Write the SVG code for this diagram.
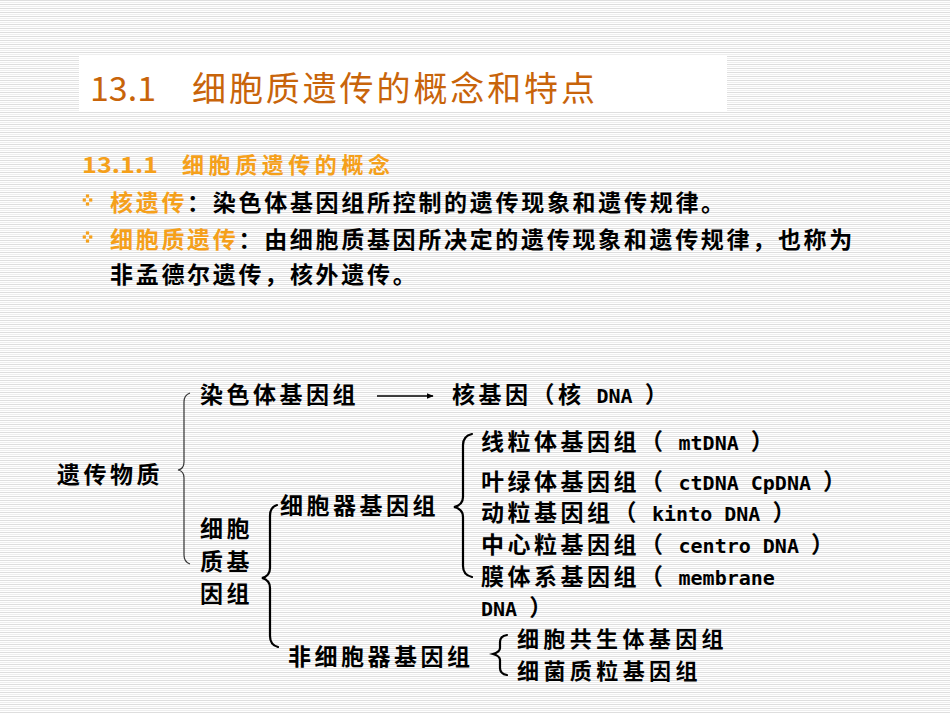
<svg xmlns="http://www.w3.org/2000/svg" width="950" height="713" viewBox="0 0 950 713">
<defs>
<pattern id="stripes" x="0" y="0" width="8" height="4" patternUnits="userSpaceOnUse">
<rect width="8" height="4" fill="#ffffff"/>
<rect y="0" width="8" height="1" fill="#dedede"/>
<rect y="2" width="8" height="1" fill="#eeeeee"/>
</pattern>
<g id="bullet">
<rect x="-1.6" y="-5.6" width="3.2" height="3.2" fill="#f5a01a"/>
<rect x="-4.8" y="-1.6" width="3.2" height="3.2" fill="#f5a01a"/>
<rect x="1.6" y="-1.6" width="3.2" height="3.2" fill="#f5a01a"/>
<rect x="-1.6" y="2.4" width="3.2" height="3.2" fill="#f5a01a"/>
</g>
<marker id="arr" viewBox="0 0 10 10" refX="9" refY="5" markerWidth="7" markerHeight="7" markerUnits="userSpaceOnUse" orient="auto">
<path d="M0,1 L10,5 L0,9 Z" fill="#000"/>
</marker>
</defs>
<style>
.cjk{font-family:"Noto Sans CJK SC","Noto Sans",sans-serif;}
.title{font-size:34px;fill:#c8640a;}
.sub{font-size:22px;font-weight:bold;fill:#f5a01a;}
.body{font-size:23px;font-weight:bold;fill:#000;letter-spacing:2.7px;}
.hl{fill:#f5a01a;}
.d{font-size:23px;font-weight:bold;fill:#000;letter-spacing:3.5px;}
.m{font-family:"DejaVu Sans Mono","Liberation Mono",monospace;font-size:20px;font-weight:bold;letter-spacing:0;}
.s{font-size:22px;}
.br{fill:none;stroke:#000;stroke-width:2.2;stroke-linecap:round;}
.brt{fill:none;stroke:#333;stroke-width:1.2;}
</style>
<rect width="950" height="713" fill="url(#stripes)"/>
<g id="title">
<rect x="79" y="55" width="648" height="56" fill="#ffffff"/>
<text class="cjk title" x="90" y="101" textLength="66" lengthAdjust="spacingAndGlyphs">13.1</text>
<text class="cjk title" x="192" y="101" textLength="403" lengthAdjust="spacing">细胞质遗传的概念和特点</text>
</g>
<g id="subtitle">
<text class="cjk sub" x="82" y="173" textLength="76" lengthAdjust="spacingAndGlyphs">13.1.1</text>
<text class="cjk sub" x="182" y="173" textLength="208" lengthAdjust="spacing">细胞质遗传的概念</text>
</g>
<g id="bullets">
<use href="#bullet" x="87.5" y="200"/>
<text class="cjk body" x="110" y="211"><tspan class="hl">核遗传</tspan>：染色体基因组所控制的遗传现象和遗传规律。</text>
<use href="#bullet" x="87.5" y="237"/>
<text class="cjk body" x="110" y="248" textLength="745" lengthAdjust="spacing"><tspan class="hl">细胞质遗传</tspan>：由细胞质基因所决定的遗传现象和遗传规律，也称为</text>
<text class="cjk body" x="110" y="283">非孟德尔遗传，核外遗传。</text>
</g>
<g id="connectors">
<line x1="377" y1="396" x2="433" y2="396" stroke="#000" stroke-width="1.5" marker-end="url(#arr)"/>
<path class="brt" d="M190,393 Q184,395 184,402 L184,462 Q184,469 178,470 Q184,471 184,478 L184,555 Q184,562 190,564"/>
<path class="br" d="M277,505 Q270,507 270,516 L270,568 Q270,576 262,578 Q270,580 270,588 L270,636 Q270,645 278,647"/>
<path class="br" d="M472,434 Q463,436 463,445 L463,497 Q463,505 454,507 Q463,509 463,517 L463,566 Q463,575 472,577"/>
<path class="br" d="M507,635 Q500,636 500,642 L500,648 Q500,652 493,654 Q500,656 500,660 L500,668 Q500,674 507,675"/>
</g>
<g id="node-genetic-material"><text class="cjk d" x="57" y="483">遗传物质</text></g>
<g id="node-chromosome"><text class="cjk d" x="200" y="403">染色体基因组</text></g>
<g id="node-nuclear"><text class="cjk d" x="452" y="403">核基因（核<tspan class="m"> DNA </tspan>）</text></g>
<g id="node-cytoplasmic">
<text class="cjk d" x="200" y="537">细胞</text>
<text class="cjk d" x="200" y="570">质基</text>
<text class="cjk d" x="200" y="602">因组</text>
</g>
<g id="node-organelle"><text class="cjk d" x="280" y="514">细胞器基因组</text></g>
<g id="node-mt"><text class="cjk d" x="481" y="450">线粒体基因组（<tspan class="m"> mtDNA </tspan>）</text></g>
<g id="node-ct"><text class="cjk d" x="481" y="490">叶绿体基因组（<tspan class="m"> ctDNA CpDNA </tspan>）</text></g>
<g id="node-kinto"><text class="cjk d" x="481" y="521">动粒基因组（<tspan class="m"> kinto DNA </tspan>）</text></g>
<g id="node-centro"><text class="cjk d" x="481" y="553">中心粒基因组（<tspan class="m"> centro DNA </tspan>）</text></g>
<g id="node-membrane">
<text class="cjk d" x="481" y="585">膜体系基因组（<tspan class="m"> membrane</tspan></text>
<text class="cjk d" x="481" y="616"><tspan class="m">DNA </tspan>）</text>
</g>
<g id="node-non-organelle"><text class="cjk d" x="288" y="665">非细胞器基因组</text></g>
<g id="node-symbiont"><text class="cjk d s" x="517" y="647" textLength="210" lengthAdjust="spacing">细胞共生体基因组</text></g>
<g id="node-plasmid"><text class="cjk d s" x="517" y="679" textLength="184" lengthAdjust="spacing">细菌质粒基因组</text></g>
</svg>
